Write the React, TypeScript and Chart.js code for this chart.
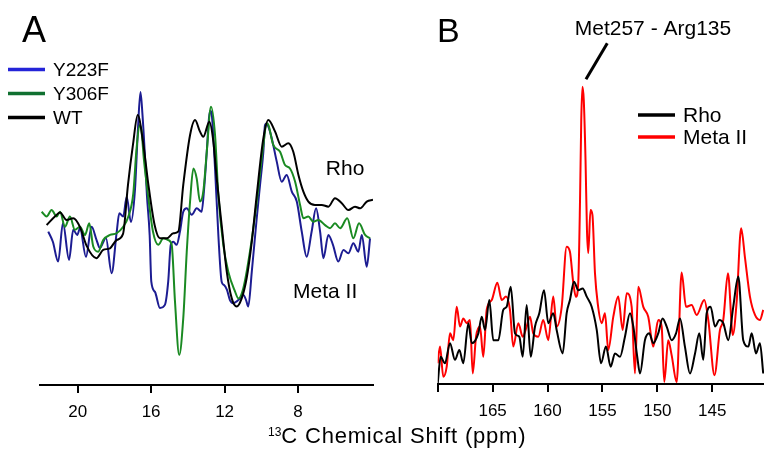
import React, { useEffect, useRef } from "react";
import { Chart, registerables } from "chart.js";

Chart.register(...registerables);

const FONT = "'Liberation Sans', Arial, Helvetica, sans-serif";

// ---------- Panel A : 13C chemical shift (ppm) vs intensity (a.u.) ----------
const panelATicks = [20, 16, 12, 8];
const panelAMin = 3.92;
const panelAMax = 22.05;

const y223f: [number, number][] = [
  [21.6, 45.0], [21.35, 42.0], [21.06, 36.2], [20.8, 47.5], [20.47, 36.7], [20.24, 45.5], [20.02, 44.0],
  [19.87, 46.0], [19.55, 37.6], [19.24, 46.4], [18.97, 42.5], [18.79, 40.2], [18.46, 43.1], [18.15, 32.8],
  [17.88, 44.6], [17.73, 50.4], [17.52, 49.4], [17.33, 55.2], [17.1, 47.8], [16.88, 57.2], [16.72, 74.8],
  [16.58, 85.9], [16.47, 79.2], [16.35, 68.4], [16.23, 55.7], [16.08, 44.0], [15.99, 30.3], [15.79, 27.3],
  [15.52, 22.6], [15.25, 23.5], [15.07, 30.3], [14.93, 41.1], [14.79, 42.0], [14.61, 41.1], [14.43, 45.0],
  [14.25, 50.8], [14.06, 51.8], [13.79, 49.9], [13.52, 51.8], [13.25, 50.8], [13.12, 57.2], [12.97, 68.4],
  [12.85, 78.3], [12.77, 80.4], [12.69, 78.9], [12.52, 63.5], [12.34, 44.0], [12.16, 30.3], [12.03, 29.3],
  [11.87, 27.9], [11.71, 24.9], [11.53, 24.0], [11.32, 24.6], [11.16, 25.4], [10.98, 26.4], [10.83, 24.9],
  [10.71, 23.0], [10.52, 33.2], [10.25, 48.9], [10.07, 58.7], [9.89, 68.4], [9.8, 76.2], [9.71, 76.7],
  [9.61, 75.7], [9.43, 72.3], [9.16, 65.5], [8.89, 59.6], [8.62, 61.6], [8.34, 56.7], [8.07, 53.8],
  [7.8, 45.0], [7.53, 37.6], [7.26, 45.0], [7.02, 51.8], [6.8, 45.0], [6.62, 37.2], [6.35, 44.0],
  [6.1, 41.1], [5.81, 36.2], [5.53, 39.6], [5.26, 38.6], [4.99, 41.6], [4.72, 39.1], [4.53, 44.0],
  [4.26, 34.7], [4.08, 43.0],
];

const y306f: [number, number][] = [
  [21.96, 50.8], [21.69, 49.4], [21.42, 51.3], [21.14, 49.4], [20.96, 50.8], [20.69, 46.4], [20.42, 49.4],
  [20.15, 45.5], [19.87, 46.4], [19.6, 44.0], [19.37, 47.4], [19.15, 40.6], [18.88, 39.1], [18.61, 42.5],
  [18.24, 44.0], [17.88, 44.5], [17.52, 46.4], [17.24, 49.4], [16.97, 56.2], [16.8, 68.9], [16.63, 76.2],
  [16.53, 74.8], [16.39, 66.0], [16.17, 55.7], [15.9, 45.0], [15.61, 41.1], [15.34, 43.0], [15.07, 42.5],
  [14.88, 41.1], [14.7, 24.4], [14.47, 8.8], [14.25, 19.6], [14.06, 39.1], [13.88, 53.8], [13.7, 63.5],
  [13.52, 60.6], [13.34, 53.8], [13.16, 56.7], [12.97, 68.4], [12.74, 81.6], [12.52, 73.3], [12.34, 55.7],
  [12.07, 41.1], [11.8, 33.2], [11.43, 27.4], [11.25, 25.4], [10.98, 28.4], [10.62, 39.1], [10.25, 53.8],
  [9.89, 70.4], [9.71, 76.8], [9.61, 76.2], [9.35, 70.4], [8.98, 68.4], [8.71, 64.5], [8.44, 63.5],
  [8.16, 59.6], [7.89, 52.8], [7.71, 48.9], [7.44, 49.4], [7.17, 47.9], [6.9, 48.4], [6.53, 46.9],
  [6.26, 46.0], [5.99, 47.4], [5.71, 46.0], [5.32, 48.9], [4.99, 43.0], [4.68, 47.4], [4.35, 44.0],
  [4.08, 43.0],
];

const wtA: [number, number][] = [
  [21.69, 46.9], [21.24, 49.4], [20.96, 50.6], [20.6, 48.4], [20.24, 48.9], [19.87, 46.3], [19.51, 40.8],
  [18.98, 37.2], [18.61, 39.6], [18.24, 40.1], [17.88, 42.5], [17.53, 44.3], [17.26, 58.7], [16.99, 70.4],
  [16.73, 79.2], [16.44, 71.3], [16.17, 59.6], [15.81, 46.9], [15.52, 43.0], [15.15, 43.0], [14.79, 44.5],
  [14.52, 45.0], [14.25, 58.7], [13.88, 73.3], [13.61, 77.7], [13.34, 74.3], [13.16, 72.8], [12.83, 77.2],
  [12.61, 71.3], [12.43, 60.6], [12.16, 46.9], [11.88, 33.2], [11.61, 25.4], [11.34, 23.0], [11.07, 25.4],
  [10.8, 31.3], [10.52, 42.0], [10.25, 55.7], [9.89, 72.3], [9.62, 77.7], [9.25, 74.3], [8.89, 69.9],
  [8.53, 70.9], [8.26, 68.4], [7.98, 61.6], [7.71, 56.7], [7.44, 53.8], [7.08, 52.8], [6.71, 52.8],
  [6.35, 52.3], [5.99, 54.8], [5.62, 53.3], [5.26, 51.3], [4.9, 52.3], [4.62, 51.8], [4.26, 53.8],
  [3.92, 54.3],
];

const panelALabels = ["Y223F", "Y306F", "WT"];
const panelAStateLabels: { text: string; at: [number, number] }[] = [
  { text: "Rho", at: [6.49, 61.6] },
  { text: "Meta II", at: [8.27, 25.4] },
];

// ---------- Panel B ----------
const panelBTicks = [170, 165, 160, 155, 150, 145];
const panelBUnlabeled = [170];
const panelBMin = 140.29;
const panelBMax = 170;

const rhoB: [number, number][] = [
  [170.0, 0.1], [169.73, 8.0], [169.34, 6.1], [168.88, 12.0], [168.43, 7.1], [168.03, 10.0], [167.67, 6.1],
  [167.21, 17.9], [166.9, 12.0], [166.3, 14.9], [165.99, 19.8], [165.69, 15.9], [165.3, 24.7], [164.94, 12.9],
  [164.48, 12.9], [164.03, 21.8], [163.72, 22.7], [163.35, 28.6], [162.96, 14.9], [162.57, 13.9], [162.26, 8.0],
  [161.9, 23.2], [161.53, 8.0], [161.14, 16.9], [160.75, 20.8], [160.32, 27.6], [159.93, 17.9], [159.48, 20.8],
  [159.17, 15.9], [158.62, 9.0], [158.26, 20.8], [157.96, 24.7], [157.59, 30.1], [157.2, 27.6], [156.8, 28.1],
  [156.43, 25.7], [155.98, 22.7], [155.52, 15.9], [155.13, 6.1], [154.68, 11.0], [154.25, 5.1], [153.86, 9.0],
  [153.4, 8.0], [152.95, 13.9], [152.49, 20.8], [152.19, 16.9], [151.83, 8.0], [151.58, 3.1], [151.13, 12.9],
  [150.74, 14.9], [150.37, 12.0], [149.92, 14.9], [149.52, 19.3], [149.15, 16.9], [148.7, 12.9], [148.3, 14.9],
  [147.94, 19.3], [147.49, 11.0], [147.03, 3.1], [146.57, 9.0], [146.18, 14.9], [145.82, 7.1], [145.51, 20.8],
  [145.15, 22.7], [144.75, 16.9], [144.36, 18.8], [144.0, 17.9], [143.54, 12.9], [143.09, 22.7], [142.63, 31.6],
  [142.18, 12.9], [141.72, 11.0], [141.41, 14.9], [141.02, 9.0], [140.66, 12.0], [140.36, 3.1],
];

const metaIIB: [number, number][] = [
  [170.0, 6.1], [169.79, 11.0], [169.49, 2.1], [169.18, 5.1], [168.88, 14.9], [168.58, 12.9], [168.27, 22.7],
  [167.97, 16.9], [167.67, 19.3], [167.36, 17.9], [167.06, 18.8], [166.81, 3.1], [166.51, 13.9], [166.15, 16.9],
  [165.85, 8.0], [165.54, 21.8], [165.08, 24.7], [164.57, 29.8], [164.17, 24.7], [163.78, 25.7], [163.42, 21.8],
  [163.12, 11.0], [162.66, 17.9], [162.26, 13.9], [161.9, 16.9], [161.6, 19.8], [161.3, 14.9], [160.84, 13.9],
  [160.39, 18.8], [159.93, 12.9], [159.48, 25.7], [159.17, 16.9], [158.71, 22.7], [158.26, 40.4], [157.96, 38.9],
  [157.65, 29.6], [157.41, 25.6], [157.2, 30.0], [157.04, 54.1], [156.93, 77.6], [156.82, 87.4], [156.7, 83.5],
  [156.54, 65.9], [156.41, 45.3], [156.29, 38.5], [156.09, 51.2], [155.91, 49.7], [155.68, 32.6], [155.43, 23.7],
  [155.07, 17.9], [154.77, 20.8], [154.47, 10.0], [154.01, 19.8], [153.56, 25.7], [153.16, 15.9], [152.79, 26.7],
  [152.34, 22.7], [152.04, 3.1], [151.74, 28.6], [151.28, 22.7], [150.83, 19.8], [150.37, 11.0], [149.92, 18.8],
  [149.61, 16.9], [149.37, 0.6], [149.01, 12.9], [148.7, 8.5], [148.24, 0.6], [147.79, 32.8], [147.39, 22.7],
  [146.88, 23.2], [146.42, 20.3], [145.73, 24.7], [145.36, 18.8], [144.8, 2.6], [144.3, 15.9], [144.0, 18.8],
  [143.57, 32.6], [143.13, 14.4], [142.78, 24.2], [142.37, 45.8], [142.02, 37.1], [141.57, 25.7], [141.11, 20.3],
  [140.66, 18.8], [140.36, 21.8],
];

const panelBLabels = ["Rho", "Meta II"];
const peakLabel = "Met257 - Arg135";
const peakLabelAt: [number, number] = [150.4, 102.6];
const peakPointer: [number, number][] = [[156.5, 89.6], [154.56, 100.2]];

const axisTitle = "C Chemical Shift (ppm)";
const axisTitleIsotope = "13";

// ---------- drawing helpers ----------
const decorPlugin = {
  id: "decor",
  afterDatasetsDraw(chart: any, _args: any, opts: any) {
    const ctx = chart.ctx as CanvasRenderingContext2D;
    const xs = chart.scales.x;
    const ys = chart.scales.y;
    ctx.save();
    ctx.fillStyle = "#000";
    ctx.textAlign = "left";
    ctx.textBaseline = "alphabetic";
    // panel letter
    ctx.font = `${opts.letterSize}px ${FONT}`;
    ctx.fillText(opts.letter, opts.letterX, opts.letterY);
    // legend
    ctx.font = `${opts.legendSize}px ${FONT}`;
    ctx.textBaseline = "middle";
    (opts.legendOrder as number[]).forEach((di, i) => {
      const ds = chart.data.datasets[di];
      const y = opts.legendY + i * opts.legendGap;
      ctx.strokeStyle = opts.legendColors[di] || ds.borderColor;
      ctx.lineWidth = 3.5;
      ctx.beginPath();
      ctx.moveTo(opts.legendX, y);
      ctx.lineTo(opts.legendX + opts.legendLine, y);
      ctx.stroke();
      ctx.fillStyle = "#000";
      ctx.fillText(ds.label, opts.legendX + opts.legendLine + 8, y + 1);
    });
    // text labels in data space
    ctx.textBaseline = "alphabetic";
    (opts.texts || []).forEach((t: any) => {
      ctx.font = `${t.size}px ${FONT}`;
      ctx.textAlign = t.align || "left";
      ctx.fillText(t.text, xs.getPixelForValue(t.at[0]), ys.getPixelForValue(t.at[1]));
    });
    // pointer line
    if (opts.pointer) {
      const p = opts.pointer as [number, number][];
      ctx.strokeStyle = "#000";
      ctx.lineWidth = 3;
      ctx.beginPath();
      ctx.moveTo(xs.getPixelForValue(p[0][0]), ys.getPixelForValue(p[0][1]));
      ctx.lineTo(xs.getPixelForValue(p[1][0]), ys.getPixelForValue(p[1][1]));
      ctx.stroke();
    }
    ctx.restore();
  },
};

function xAxis(min: number, max: number, ticks: number[], unlabeled: number[], axisHeight: number) {
  return {
    type: "linear",
    min,
    max,
    reverse: true,
    afterBuildTicks: (scale: any) => {
      scale.ticks = ticks.map((v) => ({ value: v }));
    },
    afterFit: (scale: any) => {
      scale.height = axisHeight;
    },
    ticks: {
      autoSkip: false,
      maxRotation: 0,
      padding: 9,
      color: "#000",
      font: { family: FONT, size: 17 },
      callback: (v: number) => (unlabeled.includes(v) ? "" : String(v)),
    },
    grid: {
      drawOnChartArea: false,
      drawTicks: true,
      tickLength: 8,
      tickWidth: 2,
      tickColor: "#000",
      color: "#000",
      lineWidth: 2,
    },
    border: { display: true, color: "#000", width: 2 },
  };
}

const toXY = (arr: [number, number][]) => arr.map(([x, y]) => ({ x, y }));

function line(label: string, arr: [number, number][], color: string, order: number) {
  return {
    label,
    data: toXY(arr),
    borderColor: color,
    backgroundColor: color,
    borderWidth: 2,
    pointRadius: 0,
    cubicInterpolationMode: "monotone",
    fill: false,
    order,
  };
}

export default function App() {
  const refA = useRef<HTMLCanvasElement>(null);
  const refB = useRef<HTMLCanvasElement>(null);

  useEffect(() => {
    const chartA = new Chart(refA.current as HTMLCanvasElement, {
      type: "line",
      data: {
        datasets: [
          line(panelALabels[0], y223f, "#1c1c92", 2),
          line(panelALabels[1], y306f, "#1a8a22", 1),
          line(panelALabels[2], wtA, "#000000", 0),
        ],
      },
      options: {
        animation: false,
        responsive: false,
        devicePixelRatio: 1,
        layout: { padding: { left: 40, right: 17, top: 44, bottom: 0 } },
        scales: {
          x: xAxis(panelAMin, panelAMax, panelATicks, [], 67) as any,
          y: { display: false, min: 0, max: 100 },
        },
        plugins: {
          legend: { display: false },
          tooltip: { enabled: false },
          decor: {
            letter: "A",
            letterSize: 36,
            letterX: 22,
            letterY: 41.5,
            legendX: 8,
            legendY: 69.5,
            legendGap: 24,
            legendLine: 37,
            legendSize: 19,
            legendOrder: [0, 1, 2],
            legendColors: ["#2424d8", "#107030", "#000000"],
            texts: panelAStateLabels.map((t) => ({ ...t, size: 21 })),
          },
        } as any,
      },
      plugins: [decorPlugin],
    } as any);

    const chartB = new Chart(refB.current as HTMLCanvasElement, {
      type: "line",
      data: {
        datasets: [
          line(panelBLabels[0], rhoB, "#000000", 0),
          line(panelBLabels[1], metaIIB, "#ff0000", 1),
        ],
      },
      options: {
        animation: false,
        responsive: false,
        devicePixelRatio: 1,
        layout: { padding: { left: 47.7, right: 0, top: 44, bottom: 0 } },
        scales: {
          x: xAxis(panelBMin, panelBMax, panelBTicks, panelBUnlabeled, 68) as any,
          y: { display: false, min: 0, max: 100 },
        },
        plugins: {
          legend: { display: false },
          tooltip: { enabled: false },
          decor: {
            letter: "B",
            letterSize: 34,
            letterX: 47,
            letterY: 41.5,
            legendX: 248,
            legendY: 115,
            legendGap: 22,
            legendLine: 37,
            legendSize: 21,
            legendOrder: [0, 1],
            legendColors: ["#000000", "#ff0000"],
            texts: [{ text: peakLabel, at: peakLabelAt, size: 21, align: "center" }],
            pointer: peakPointer,
          },
        } as any,
      },
      plugins: [decorPlugin],
    } as any);

    return () => {
      chartA.destroy();
      chartB.destroy();
    };
  }, []);

  return (
    <div
      style={{
        position: "fixed",
        left: 0,
        top: 0,
        width: 764,
        height: 452,
        background: "#fff",
        overflow: "hidden",
        fontFamily: FONT,
      }}
    >
      <canvas ref={refA} width={390} height={452} style={{ position: "absolute", left: 0, top: 0 }} />
      <canvas ref={refB} width={374} height={452} style={{ position: "absolute", left: 390, top: 0 }} />
      <div
        style={{
          position: "absolute",
          left: 268,
          top: 419,
          fontSize: 22,
          lineHeight: "26px",
          letterSpacing: "0.8px",
          color: "#000",
          whiteSpace: "nowrap",
        }}
      >
        <span style={{ fontSize: 12, verticalAlign: 7, letterSpacing: 0 }}>{axisTitleIsotope}</span>
        {axisTitle}
      </div>
    </div>
  );
}
